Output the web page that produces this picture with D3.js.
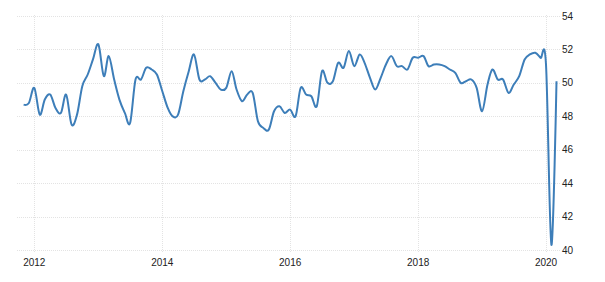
<!DOCTYPE html>
<html>
<head>
<meta charset="utf-8">
<script src="https://d3js.org/d3.v7.min.js"></script>
<style>
    body { margin: 0; background: #fff; }
    svg { display: block; }
</style>
</head>
<body>
<div id="chart"></div>
<script>
// monthly index values, Nov 2011 .. Mar 2020
const startMonth = [2011, 10]; // year, month index (0 = Jan)
const values = [
    48.7, 48.8,
    49.7, 48.1, 49.0, 49.3, 48.5, 48.2, 49.3, 47.5, 48.1, 49.8, 50.5, 51.4,
    52.3, 50.4, 51.6, 50.2, 49.0, 48.2, 47.6, 50.2, 50.2, 50.9, 50.8, 50.5,
    49.5, 48.5, 48.0, 48.1, 49.5, 50.7, 51.7, 50.2, 50.2, 50.4, 50.0, 49.6,
    49.7, 50.7, 49.6, 48.9, 49.3, 49.4, 47.7, 47.3, 47.2, 48.3, 48.6, 48.2,
    48.4, 48.0, 49.7, 49.3, 49.2, 48.6, 50.7, 50.0, 50.1, 51.2, 50.9, 51.9,
    51.0, 51.7, 51.2, 50.3, 49.6, 50.3, 51.1, 51.6, 51.0, 51.0, 50.8, 51.5,
    51.5, 51.6, 51.0, 51.1, 51.1, 51.0, 50.8, 50.6, 50.0, 50.1, 50.2, 49.7,
    48.3, 49.9, 50.8, 50.2, 50.2, 49.4, 49.9, 50.4, 51.4, 51.7, 51.8, 51.5,
    51.1, 40.3, 50.1
];
const yTicks = [40, 42, 44, 46, 48, 50, 52, 54];
const xTickYears = [2012, 2014, 2016, 2018, 2020];

const width = 605, height = 282;
const plotLeft = 17, plotRight = 560;

const data = values.map((v, i) => ({
    date: new Date(startMonth[0], startMonth[1] + i, 1),
    value: v
}));

const svg = d3.select("#chart")
    .append("svg")
    .attr("width", width)
    .attr("height", height);

const x = d3.scaleTime()
    .domain([new Date(2012, 0, 1), new Date(2020, 0, 1)])
    .range([34.3, 546]);

const y = d3.scaleLinear()
    .domain([40, 54])
    .range([250, 16]);

// horizontal grid + right labels
const yAxis = svg.append("g").attr("class", "y-grid");
yAxis.selectAll("line")
    .data(yTicks)
    .enter()
    .append("line")
    .attr("x1", plotLeft)
    .attr("x2", plotRight)
    .attr("y1", d => Math.round(y(d)) + 0.5)
    .attr("y2", d => Math.round(y(d)) + 0.5)
    .attr("stroke", "#e3e3e3")
    .attr("stroke-width", 1)
    .attr("stroke-dasharray", "1,1");

yAxis.selectAll("text")
    .data(yTicks)
    .enter()
    .append("text")
    .attr("x", 562)
    .attr("y", d => y(d))
    .attr("dy", "0.35em")
    .attr("font-family", '"Liberation Sans", Arial, sans-serif')
    .attr("font-size", "10px")
    .attr("fill", "#222")
    .text(d => d);

// vertical grid + bottom labels
const xAxis = svg.append("g").attr("class", "x-grid");
xAxis.selectAll("line")
    .data(xTickYears)
    .enter()
    .append("line")
    .attr("x1", d => Math.round(x(new Date(d, 0, 1))) + 0.5)
    .attr("x2", d => Math.round(x(new Date(d, 0, 1))) + 0.5)
    .attr("y1", 15)
    .attr("y2", 253)
    .attr("stroke", "#e3e3e3")
    .attr("stroke-width", 1)
    .attr("stroke-dasharray", "1,1");

xAxis.selectAll("text")
    .data(xTickYears)
    .enter()
    .append("text")
    .attr("x", d => x(new Date(d, 0, 1)))
    .attr("y", 266)
    .attr("text-anchor", "middle")
    .attr("font-family", '"Liberation Sans", Arial, sans-serif')
    .attr("font-size", "10px")
    .attr("fill", "#222")
    .text(d => d);

// the series
const line = d3.line()
    .x(d => x(d.date))
    .y(d => y(d.value))
    .curve(d3.curveCardinal.tension(0));

svg.append("path")
    .datum(data)
    .attr("d", line)
    .attr("fill", "none")
    .attr("stroke", "#3d7eb9")
    .attr("stroke-width", 2)
    .attr("stroke-linejoin", "round");
</script>
</body>
</html>
